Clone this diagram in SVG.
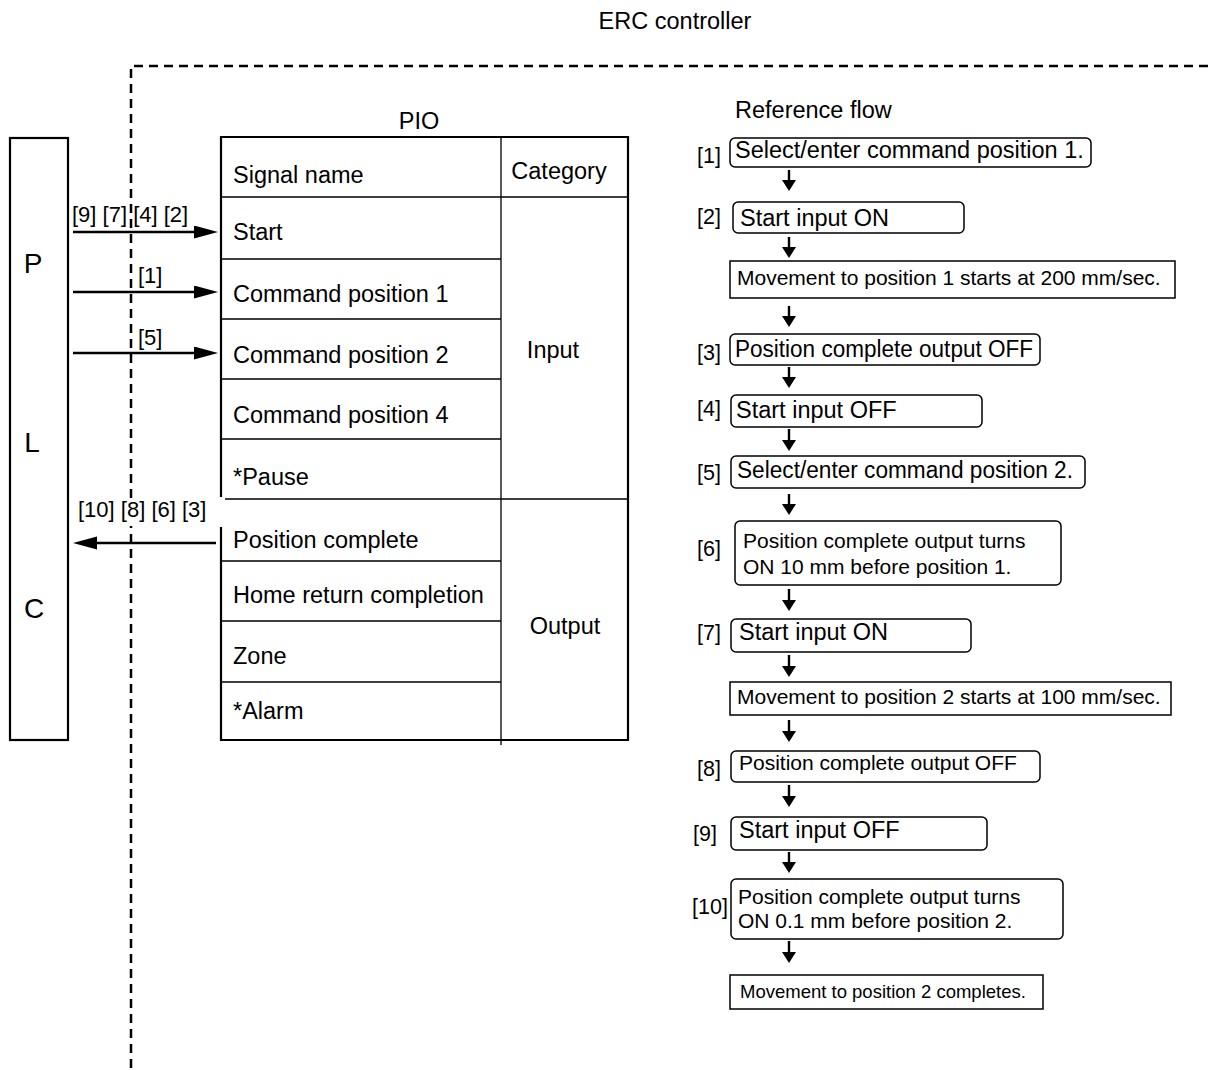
<svg xmlns="http://www.w3.org/2000/svg" width="1210" height="1070" viewBox="0 0 1210 1070">
<style>
text{font-family:"Liberation Sans",Arial,sans-serif;fill:#000}
.t{font-size:23.5px}
.s{font-size:21px}
.lb{font-size:21.5px}
.al{font-size:22px}
.big{font-size:28px}
.box{fill:#fff;stroke:#000;stroke-width:1.5}
.thin{stroke:#000;stroke-width:1.3;fill:none}
.thick{stroke:#000;stroke-width:2.2;fill:none}
.con{stroke:#000;stroke-width:2.4;fill:none}
.dash{stroke:#000;stroke-width:2.5;fill:none;stroke-dasharray:9,6}
</style>
<defs>
<marker id="ah" markerUnits="userSpaceOnUse" markerWidth="26" markerHeight="14" refX="2" refY="6.5" orient="auto">
<path d="M0,0 L24,6.5 L0,13 Z" fill="#000"/>
</marker>
</defs>
<rect width="1210" height="1070" fill="#fff"/>
<text x="675" y="29" text-anchor="middle" class="t">ERC controller</text>
<path class="dash" d="M131,1068 L131,66 L1210,66"/>

<g id="plc">
<rect x="10" y="138" width="58" height="602" fill="#fff" stroke="#000" stroke-width="2.2"/>
<text x="33" y="273" class="big" text-anchor="middle">P</text>
<text x="32" y="452" class="big" text-anchor="middle">L</text>
<text x="34" y="618" class="big" text-anchor="middle">C</text>
</g>

<g id="pio">
<text x="419" y="129" class="t" text-anchor="middle">PIO</text>
<path class="thick" d="M221,497 L221,137 L628,137 L628,740 L221,740 L221,527"/>
<path class="thin" d="M501,137 L501,745 M221,197 L628,197 M221,259 L501,259 M221,319 L501,319 M221,379 L501,379 M221,439 L501,439 M225,499 L628,499 M221,561 L501,561 M221,621 L501,621 M221,682 L501,682"/>
<text x="233" y="183" class="t">Signal name</text>
<text x="559" y="179" class="t" text-anchor="middle">Category</text>
<text x="233" y="240" class="t">Start</text>
<text x="233" y="302" class="t">Command position 1</text>
<text x="233" y="363" class="t">Command position 2</text>
<text x="233" y="423" class="t">Command position 4</text>
<text x="233" y="485" class="t">*Pause</text>
<text x="233" y="548" class="t">Position complete</text>
<text x="233" y="603" class="t">Home return completion</text>
<text x="233" y="664" class="t">Zone</text>
<text x="233" y="719" class="t">*Alarm</text>
<text x="553" y="358" class="t" text-anchor="middle">Input</text>
<text x="565" y="634" class="t" text-anchor="middle">Output</text>
</g>

<g id="connectors">
<line class="con" x1="73" y1="232" x2="196" y2="232" marker-end="url(#ah)"/>
<line class="con" x1="73" y1="292" x2="196" y2="292" marker-end="url(#ah)"/>
<line class="con" x1="73" y1="353" x2="196" y2="353" marker-end="url(#ah)"/>
<line class="con" x1="216" y1="543" x2="95" y2="543" marker-end="url(#ah)"/>
<text x="72" y="222" class="al">[9] [7] [4] [2]</text>
<text x="138" y="283" class="al">[1]</text>
<text x="138" y="345" class="al">[5]</text>
<rect x="74" y="498" width="140" height="28" fill="#fff"/>
<text x="78" y="517" class="al">[10] [8] [6] [3]</text>
<path class="con" d="M789,170 V182 M789,237 V249 M789,306 V318 M789,367 V379 M789,429 V442 M789,494 V506 M789,589 V602 M789,655 V668 M789,720 V733 M789,785 V798 M789,852 V864 M789,941 V954"/>
<g fill="#000">
<path d="M782,180 L796,180 L789,191 Z"/>
<path d="M782,247 L796,247 L789,258 Z"/>
<path d="M782,316 L796,316 L789,327 Z"/>
<path d="M782,377 L796,377 L789,388 Z"/>
<path d="M782,440 L796,440 L789,451 Z"/>
<path d="M782,504 L796,504 L789,515 Z"/>
<path d="M782,600 L796,600 L789,611 Z"/>
<path d="M782,666 L796,666 L789,677 Z"/>
<path d="M782,731 L796,731 L789,742 Z"/>
<path d="M782,796 L796,796 L789,807 Z"/>
<path d="M782,862 L796,862 L789,873 Z"/>
<path d="M782,952 L796,952 L789,963 Z"/>
</g>
</g>

<g id="flow">
<text x="735" y="118" class="t">Reference flow</text>
<g id="f1"><text x="697" y="163" class="lb">[1]</text><rect class="box" x="730" y="138" width="361" height="29" rx="5"/><text x="735" y="158" class="t">Select/enter command position 1.</text></g>
<g id="f2"><text x="697" y="224" class="lb">[2]</text><rect class="box" x="733" y="202" width="231" height="31" rx="5"/><text x="740" y="226" class="t">Start input ON</text></g>
<g id="f2b"><rect class="box" x="730" y="261" width="445" height="37"/><text x="737" y="285" class="s">Movement to position 1 starts at 200 mm/sec.</text></g>
<g id="f3"><text x="697" y="360" class="lb">[3]</text><rect class="box" x="730" y="334" width="310" height="31" rx="5"/><text x="735" y="357" class="t" textLength="298" lengthAdjust="spacingAndGlyphs">Position complete output OFF</text></g>
<g id="f4"><text x="697" y="416" class="lb">[4]</text><rect class="box" x="731" y="395" width="251" height="32" rx="5"/><text x="736" y="418" class="t">Start input OFF</text></g>
<g id="f5"><text x="697" y="480" class="lb">[5]</text><rect class="box" x="731" y="456" width="354" height="32" rx="5"/><text x="737" y="478" class="t" textLength="336" lengthAdjust="spacingAndGlyphs">Select/enter command position 2.</text></g>
<g id="f6"><text x="697" y="556" class="lb">[6]</text><rect class="box" x="735" y="521" width="326" height="64" rx="5"/><text x="743" y="548" class="s">Position complete output turns</text><text x="743" y="574" class="s">ON 10 mm before position 1.</text></g>
<g id="f7"><text x="697" y="640" class="lb">[7]</text><rect class="box" x="731" y="619" width="240" height="33" rx="5"/><text x="739" y="640" class="t">Start input ON</text></g>
<g id="f7b"><rect class="box" x="730" y="682" width="441" height="33"/><text x="737" y="704" class="s">Movement to position 2 starts at 100 mm/sec.</text></g>
<g id="f8"><text x="697" y="776" class="lb">[8]</text><rect class="box" x="731" y="751" width="309" height="31" rx="5"/><text x="739" y="770" class="s">Position complete output OFF</text></g>
<g id="f9"><text x="693" y="841" class="lb">[9]</text><rect class="box" x="731" y="817" width="256" height="33" rx="5"/><text x="739" y="838" class="t">Start input OFF</text></g>
<g id="f10"><text x="692" y="914" class="lb">[10]</text><rect class="box" x="731" y="879" width="332" height="60" rx="5"/><text x="738" y="904" class="s">Position complete output turns</text><text x="738" y="928" class="s">ON 0.1 mm before position 2.</text></g>
<g id="f11"><rect class="box" x="730" y="975" width="313" height="34"/><text x="740" y="998" font-size="18.5px">Movement to position 2 completes.</text></g>
</g>
</svg>
